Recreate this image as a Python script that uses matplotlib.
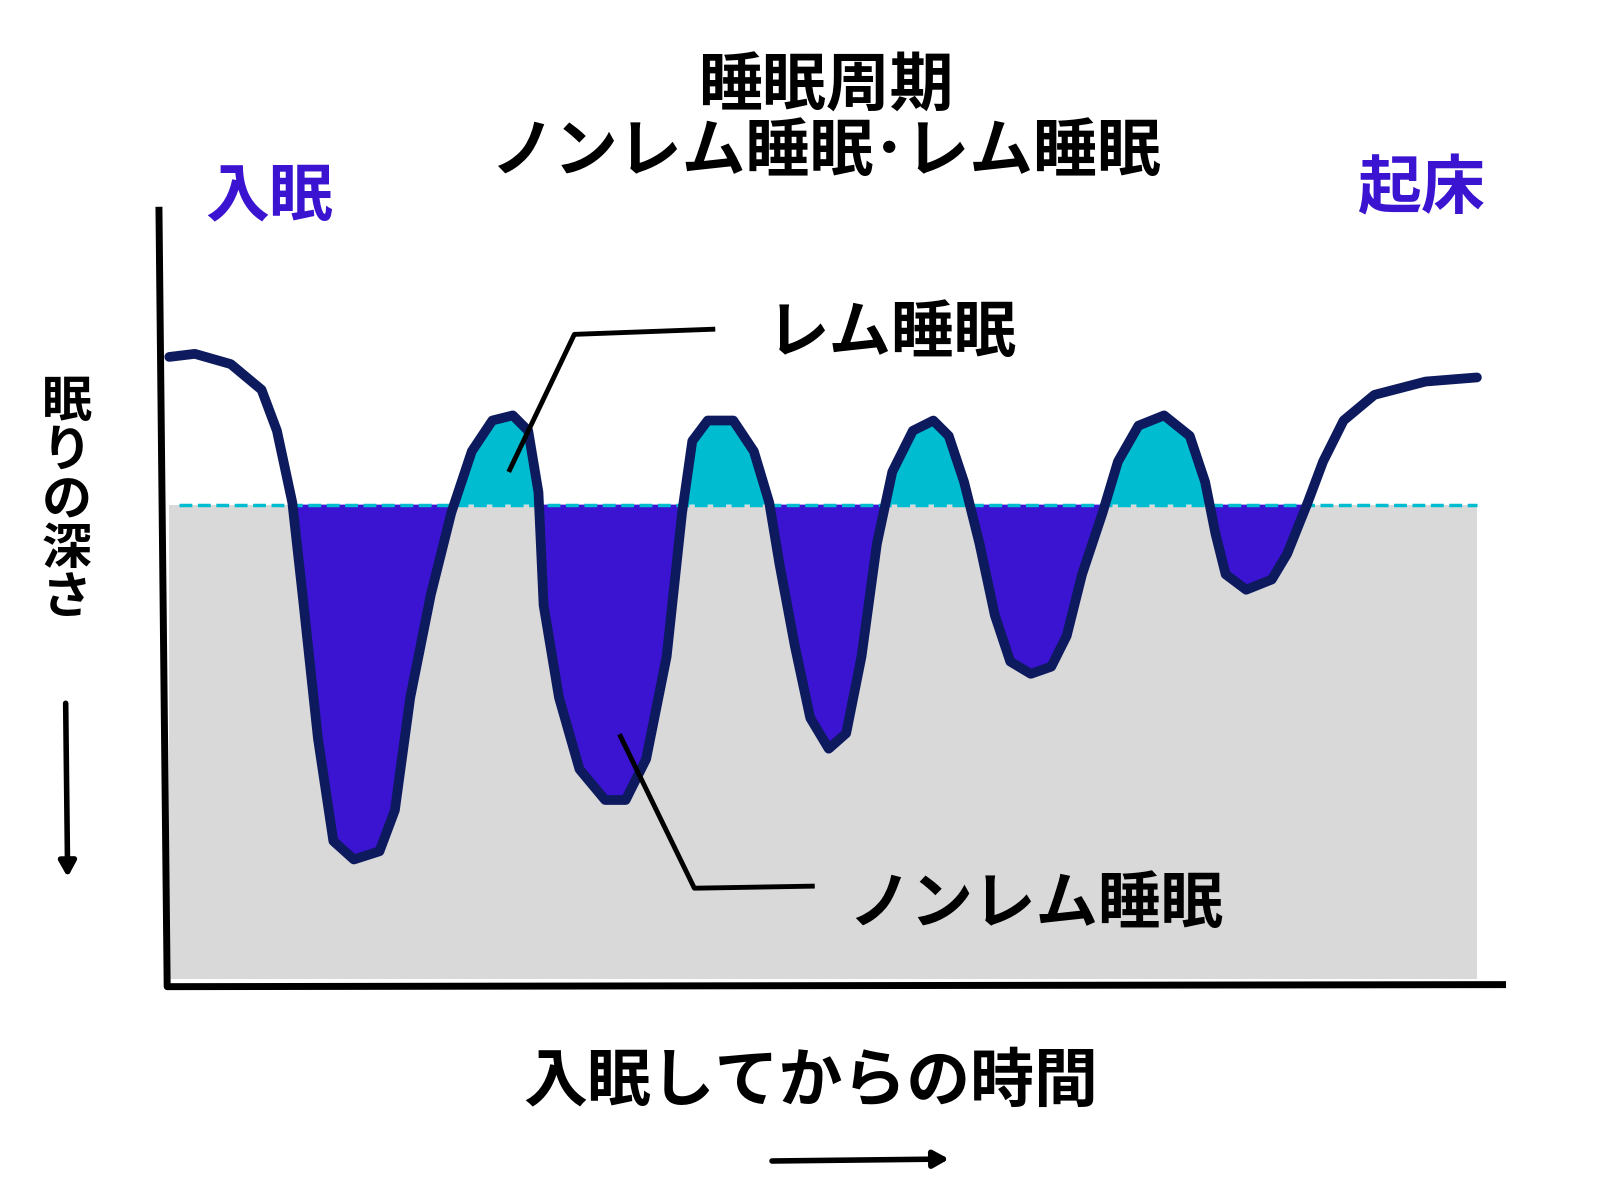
import matplotlib
matplotlib.use("Agg")
import matplotlib.pyplot as plt
import numpy as np

plt.rcParams['font.family'] = ['Noto Sans CJK JP', 'DejaVu Sans']

# sleep depth curve (x = time, y = depth; bigger = deeper)
time = [165, 190, 225, 255, 270, 285, 295, 310, 325, 345, 370, 385, 400, 420, 440,
        460, 480, 500, 515, 525, 530, 545, 565, 590, 610, 630, 650, 665, 675, 690,
        715, 735, 750, 760, 775, 790, 808, 825, 840, 855, 870, 890, 910, 925, 940,
        955, 970, 985, 1005, 1025, 1040, 1055, 1075, 1090, 1110, 1135, 1160, 1175,
        1185, 1195, 1215, 1240, 1255, 1275, 1290, 1310, 1340, 1390, 1440]
depth = [348, 345, 355, 380, 420, 490, 580, 720, 820, 838, 830, 790, 680, 580, 500,
         440, 410, 405, 420, 480, 590, 680, 750, 780, 780, 740, 640, 500, 430, 410,
         410, 440, 490, 550, 630, 700, 730, 715, 640, 530, 460, 420, 410, 425, 470,
         530, 600, 645, 657, 650, 620, 560, 500, 450, 415, 405, 425, 470,
         520, 560, 575, 565, 540, 490, 450, 410, 385, 372, 368]
rem_level = 492
floor_level = 955
sleep_start, sleep_end = 285, 1275  # first fall below / last rise above the REM line

NAVY = "#0d1a5e"
PURPLE = "#3a14d0"
CYAN = "#00bcd0"

fig = plt.figure(figsize=(16, 12), dpi=100)
ax = fig.add_axes([0, 0, 1, 1])
ax.set_xlim(0, 1560)
ax.set_ylim(1170, 0)
ax.axis("off")

t = np.array(time, dtype=float)
d = np.array(depth, dtype=float)
inside = (t >= sleep_start) & (t <= sleep_end)

ax.fill_between([t[0], t[-1]], rem_level, floor_level, color="#d9d9d9", lw=0, zorder=1)
ax.fill_between(t, rem_level, d, where=d >= rem_level, interpolate=True,
                color=PURPLE, lw=0, zorder=2)
ax.fill_between(t, rem_level, d, where=(d <= rem_level) & inside, interpolate=True,
                color=CYAN, lw=0, zorder=2)
ax.plot([175, 1440], [rem_level, rem_level], ls="--", color=CYAN, lw=2.5, zorder=3)
ax.plot(t, d, color=NAVY, lw=7, solid_joinstyle="round", solid_capstyle="round", zorder=4)

# hand-drawn axes
ax.plot([155, 163, 1465], [205, 962, 960], color="black", lw=5, zorder=5)

# leader lines
ax.plot([497, 560, 695], [458, 326, 321], color="black", lw=3.5, zorder=6)
ax.plot([605, 677, 792], [718, 866, 864], color="black", lw=3.5, zorder=6)

ax.text(805, 85, "睡眠周期", ha="center", va="center", fontsize=46, fontweight="bold")
ax.text(805, 148, "ノンレム睡眠･レム睡眠", ha="center", va="center", fontsize=46, fontweight="bold")
ax.text(262, 192, "入眠", ha="center", va="center", fontsize=46, fontweight="bold", color=PURPLE)
ax.text(1385, 185, "起床", ha="center", va="center", fontsize=46, fontweight="bold", color=PURPLE)
ax.text(870, 325, "レム睡眠", ha="center", va="center", fontsize=45, fontweight="bold")
ax.text(1010, 882, "ノンレム睡眠", ha="center", va="center", fontsize=45, fontweight="bold")
ax.text(790, 1055, "入眠してからの時間", ha="center", va="center", fontsize=46, fontweight="bold")
ax.text(65, 488, "\n".join("眠りの深さ"), ha="center", va="center", fontsize=36,
        fontweight="bold", linespacing=0.95)

ax.annotate("", xy=(66, 858), xytext=(64, 683),
            arrowprops=dict(arrowstyle="-|>,head_width=0.5,head_length=0.9", color="black", lw=4))
ax.annotate("", xy=(928, 1130), xytext=(750, 1132),
            arrowprops=dict(arrowstyle="-|>,head_width=0.5,head_length=0.9", color="black", lw=4))

fig.savefig("out.png", dpi=100)
